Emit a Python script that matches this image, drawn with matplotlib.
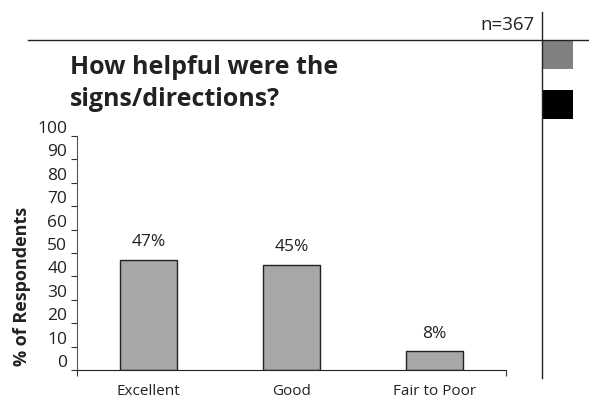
import matplotlib
matplotlib.use('Agg')
import matplotlib.pyplot as plt
from matplotlib.patches import Rectangle
from matplotlib.lines import Line2D
from matplotlib.transforms import ScaledTranslation

categories = ['Excellent', 'Good', 'Fair to Poor']
values = [47, 45, 8]
value_labels = ['47%', '45%', '8%']
yticks = list(range(0, 101, 10))

plt.rcParams['font.family'] = ['Open Sans', 'DejaVu Sans']

fig = plt.figure(figsize=(5.89, 4.01), dpi=100)
ax = fig.add_axes([77/589, 31/401, 429/589, 234/401])

x = [i + 0.5 for i in range(len(categories))]
ax.bar(x, values, width=0.4, color='#a7a7aa', edgecolor='#222222', linewidth=1.0)
for xi, v, lab in zip(x, values, value_labels):
    ax.text(xi, v + 7.5, lab, ha='center', va='center', fontsize=12.5, color='#222222')

ax.set_xlim(0, 3)
ax.set_ylim(0, 100)
ax.set_yticks(yticks)
ax.set_yticklabels([str(t) for t in yticks], fontsize=12.5, color='#222222')
ax.set_xticks(x)
ax.set_xticklabels(categories, fontsize=11, color='#222222')
ax.set_xticks([0, 3], minor=True)
ax.tick_params(axis='x', which='major', length=0, pad=10)
ax.tick_params(axis='x', which='minor', length=4, width=0.8, color='#333333')
ax.tick_params(axis='y', length=4, width=0.8, pad=3, color='#333333')
# tick labels sit a little above their ticks in the original
shift = ScaledTranslation(0, 9/100, fig.dpi_scale_trans)
for lab in ax.get_yticklabels():
    lab.set_transform(lab.get_transform() + shift)
for s in ['top', 'right']:
    ax.spines[s].set_visible(False)
ax.spines['left'].set_color('#555555')
ax.spines['bottom'].set_color('#222222')

fig.text(22/589, 1 - 286/401, '% of Respondents', rotation=90, ha='center', va='center',
         fontsize=13, fontweight='bold', color='#222222')

fig.text(70/589, 1 - 67/401, 'How helpful were the', ha='left', va='center',
         fontsize=18, fontweight='bold', color='#222222')
fig.text(70/589, 1 - 100/401, 'signs/directions?', ha='left', va='center',
         fontsize=18, fontweight='bold', color='#222222')

fig.text(535/589, 1 - 25/401, 'n=367', ha='right', va='center', fontsize=13.5, color='#222222')

# frame lines and legend-like boxes on the right
fig.add_artist(Line2D([28/589, 1], [1 - 40/401, 1 - 40/401], color='#222222', linewidth=1.0))
fig.add_artist(Line2D([542/589, 542/589], [1 - 12/401, 1 - 378/401], color='#222222', linewidth=1.0))
fig.add_artist(Rectangle((542/589, 1 - 69/401), 31/589, 29/401, facecolor='#808080',
                         edgecolor='none', transform=fig.transFigure))
fig.add_artist(Rectangle((542/589, 1 - 119/401), 31/589, 29/401, facecolor='#000000',
                         edgecolor='none', transform=fig.transFigure))

fig.savefig('out.png', dpi=100)
